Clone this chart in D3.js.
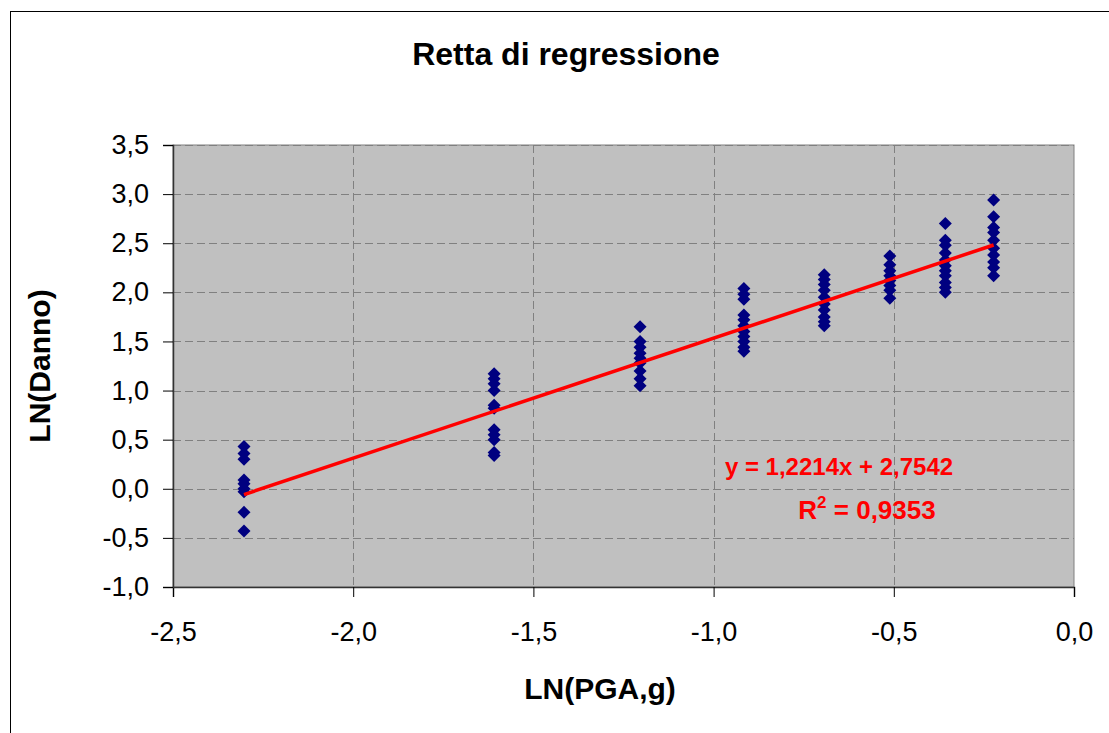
<!DOCTYPE html>
<html>
<head>
  <script src="https://d3js.org/d3.v7.min.js"></script>
  <style>
    body { margin: 0; background: #fff; }
    text { font-family: "Liberation Sans", Arial, sans-serif; }
  </style>
</head>
<body>
  <div id="chart"></div>
  <script>
    // x = LN(PGA,g) levels, y = LN(Danno) observations per level
    const pgaLevels = [-2.303, -1.609, -1.204, -0.916, -0.693, -0.511, -0.357, -0.223];
    const damageValues = [
      [0.43, 0.36, 0.30, 0.09, 0.05, 0.00, -0.03, -0.24, -0.43],
      [1.17, 1.12, 1.07, 1.00, 0.85, 0.82, 0.60, 0.55, 0.50, 0.37, 0.34],
      [1.65, 1.50, 1.44, 1.38, 1.33, 1.28, 1.20, 1.12, 1.05],
      [2.04, 1.98, 1.93, 1.77, 1.72, 1.66, 1.60, 1.55, 1.50, 1.44, 1.40],
      [2.18, 2.13, 2.08, 2.02, 1.95, 1.88, 1.82, 1.75, 1.70, 1.66],
      [2.37, 2.28, 2.22, 2.17, 2.12, 2.07, 2.02, 1.94],
      [2.70, 2.53, 2.48, 2.40, 2.33, 2.27, 2.22, 2.17, 2.10, 2.05, 2.00],
      [2.94, 2.77, 2.66, 2.61, 2.53, 2.45, 2.38, 2.31, 2.25, 2.17]
    ];
    const slope = 1.2214;
    const intercept = 2.7542;
    const xTicks = [-2.5, -2.0, -1.5, -1.0, -0.5, 0.0];
    const yTicks = [-1.0, -0.5, 0.0, 0.5, 1.0, 1.5, 2.0, 2.5, 3.0, 3.5];

    const width = 1109, height = 733;
    const plotLeft = 173, plotRight = 1074, plotTop = 145, plotBottom = 587;

    const points = [];
    pgaLevels.forEach((x, i) => damageValues[i].forEach(y => points.push({ x, y })));

    const fmt = d => d3.format('.1f')(d).replace('.', ',').replace('−', '-');

    const svg = d3.select('#chart').append('svg')
      .attr('width', width).attr('height', height);

    // outer chart frame
    svg.append('rect')
      .attr('x', 10.5).attr('y', 11.5)
      .attr('width', width + 10).attr('height', height + 10)
      .attr('fill', '#fff').attr('stroke', '#000');

    const xScale = d3.scaleLinear().domain([-2.5, 0]).range([plotLeft, plotRight]);
    const yScale = d3.scaleLinear().domain([-1, 3.5]).range([plotBottom, plotTop]);

    // plot area
    svg.append('rect')
      .attr('x', plotLeft).attr('y', plotTop)
      .attr('width', plotRight - plotLeft).attr('height', plotBottom - plotTop)
      .attr('fill', '#c0c0c0').attr('stroke', '#808080');

    // gridlines
    svg.append('g').selectAll('line').data(yTicks.slice(1)).enter().append('line')
      .attr('x1', plotLeft).attr('x2', plotRight)
      .attr('y1', d => Math.round(yScale(d)) + 0.5).attr('y2', d => Math.round(yScale(d)) + 0.5)
      .attr('stroke', '#808080').attr('stroke-dasharray', '8,4');
    svg.append('g').selectAll('line').data(xTicks.slice(1, -1)).enter().append('line')
      .attr('y1', plotTop).attr('y2', plotBottom)
      .attr('x1', d => Math.round(xScale(d)) + 0.5).attr('x2', d => Math.round(xScale(d)) + 0.5)
      .attr('stroke', '#808080').attr('stroke-dasharray', '8,4');

    // axes
    const xAxis = svg.append('g')
      .attr('transform', `translate(0, ${plotBottom})`)
      .call(d3.axisBottom(xScale).tickValues(xTicks).tickFormat(fmt).tickSize(10).tickPadding(25));
    const yAxis = svg.append('g')
      .attr('transform', `translate(${plotLeft}, 0)`)
      .call(d3.axisLeft(yScale).tickValues(yTicks).tickFormat(fmt).tickSize(10).tickPadding(14));
    [xAxis, yAxis].forEach(g => {
      g.select('.domain').attr('stroke', '#333').attr('stroke-width', 1.5);
      g.selectAll('line').attr('stroke', '#000');
      g.selectAll('text').attr('font-size', 27).attr('fill', '#000')
        .style('font-family', '"Liberation Sans", Arial, sans-serif');
    });

    // points
    svg.append('g').selectAll('path').data(points).enter().append('path')
      .attr('d', 'M0,-6.5L6.5,0L0,6.5L-6.5,0Z')
      .attr('transform', d => `translate(${xScale(d.x)}, ${yScale(d.y)})`)
      .attr('fill', '#000080');

    // trendline
    const xExt = d3.extent(pgaLevels);
    svg.append('line')
      .attr('x1', xScale(xExt[0])).attr('y1', yScale(slope * xExt[0] + intercept))
      .attr('x2', xScale(xExt[1])).attr('y2', yScale(slope * xExt[1] + intercept))
      .attr('stroke', '#ff0000').attr('stroke-width', 3.5);

    // equation
    svg.append('text')
      .attr('x', 839).attr('y', 475).attr('text-anchor', 'middle')
      .attr('font-size', 24).attr('font-weight', 'bold').attr('fill', '#ff0000')
      .text('y = 1,2214x + 2,7542');
    const r2 = svg.append('text')
      .attr('x', 867).attr('y', 519).attr('text-anchor', 'middle')
      .attr('font-size', 26).attr('font-weight', 'bold').attr('fill', '#ff0000');
    r2.append('tspan').text('R');
    r2.append('tspan').attr('font-size', 17).attr('dy', -11).text('2');
    r2.append('tspan').attr('dy', 11).text(' = 0,9353');

    // titles
    svg.append('text')
      .attr('x', 566).attr('y', 65).attr('text-anchor', 'middle')
      .attr('font-size', 32).attr('font-weight', 'bold')
      .text('Retta di regressione');
    svg.append('text')
      .attr('x', 600).attr('y', 699).attr('text-anchor', 'middle')
      .attr('font-size', 30).attr('font-weight', 'bold')
      .text('LN(PGA,g)');
    svg.append('text')
      .attr('transform', 'translate(50, 366) rotate(-90)').attr('text-anchor', 'middle')
      .attr('font-size', 30).attr('font-weight', 'bold')
      .text('LN(Danno)');
  </script>
</body>
</html>
